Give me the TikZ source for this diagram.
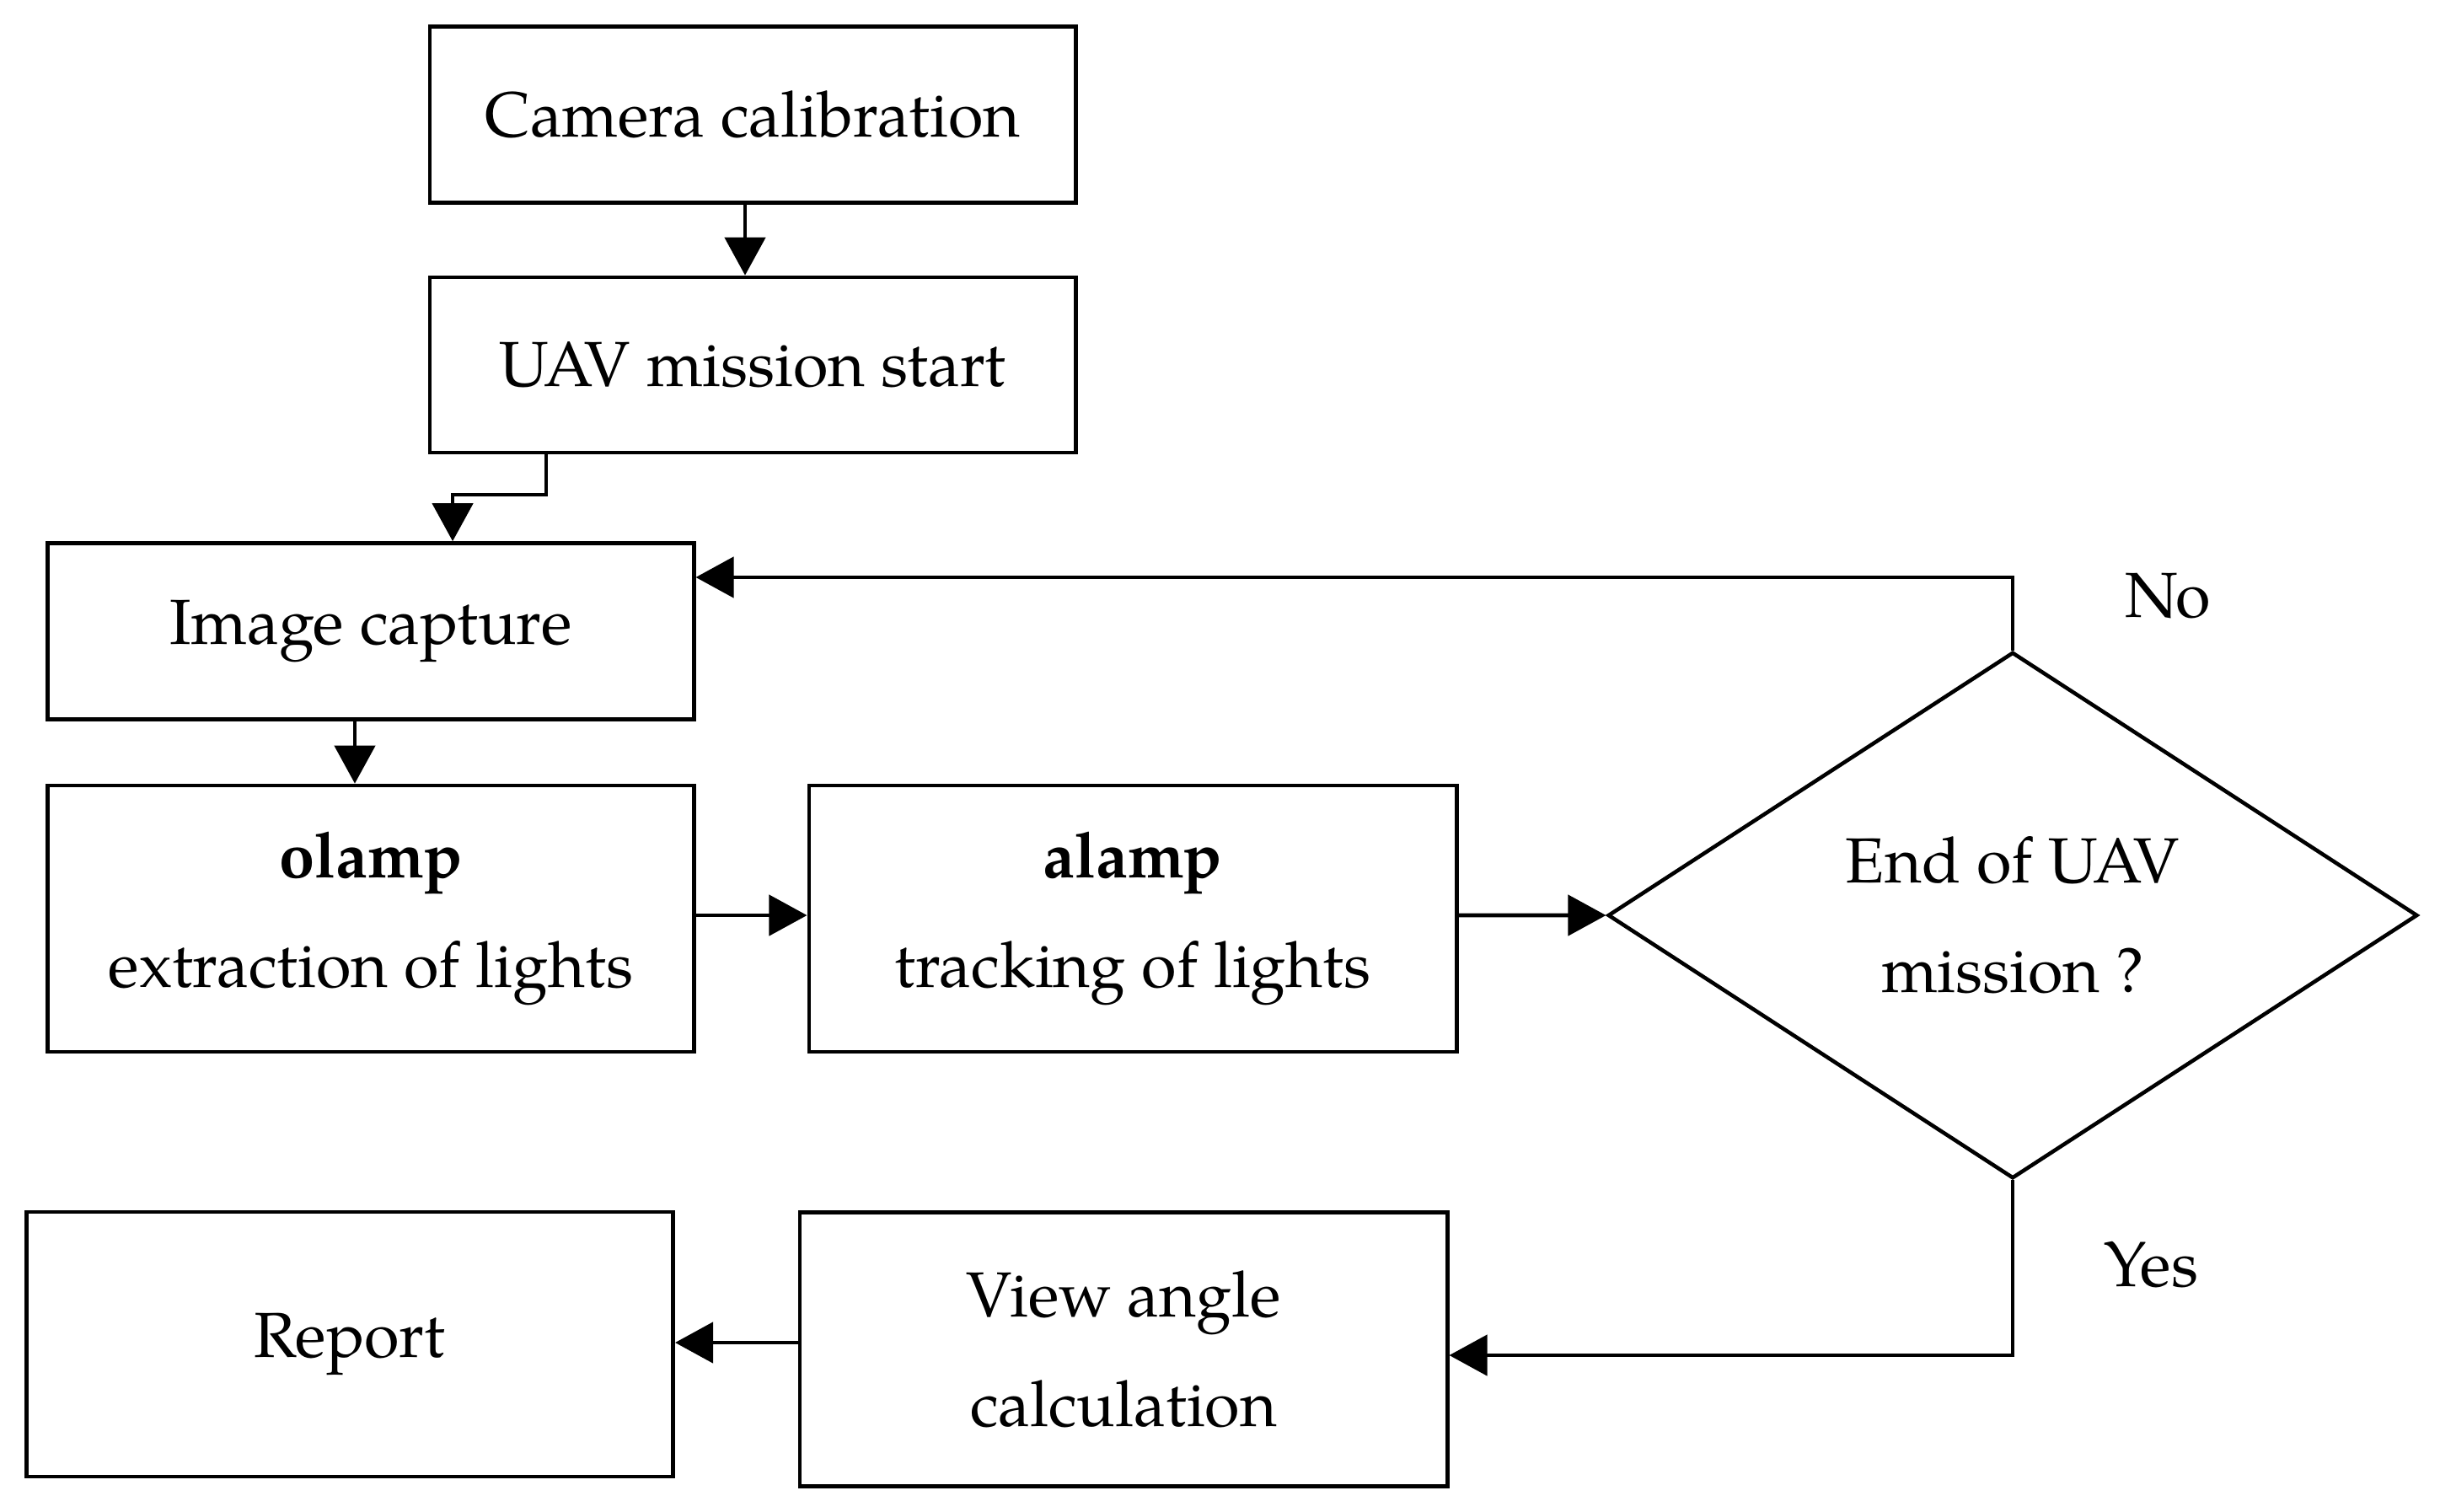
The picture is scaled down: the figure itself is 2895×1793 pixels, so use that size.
\documentclass[tikz,border=0pt]{standalone}
\usepackage{fontspec}
\setmainfont{TeX Gyre Pagella}
\usetikzlibrary{shapes.geometric,arrows.meta}
\begin{document}
\begin{tikzpicture}[x=0.01cm,y=-0.01cm,
  every node/.style={font=\fontsize{21.5}{37}\selectfont},
  box/.style={draw, line width=1.3pt, rectangle, align=center, inner sep=0pt},
  decision/.style={draw, line width=1.3pt, diamond, align=center, inner sep=0pt},
  arr/.style={line width=1.3pt, -{Triangle[width=0.48cm,length=0.45cm]}}]
\useasboundingbox (0,0) rectangle (2895,1793);
\node[box, minimum width=7.66cm, minimum height=2.09cm] (cam) at (893,136) {Camera calibration};
\node[box, minimum width=7.66cm, minimum height=2.08cm] (uav) at (893,433) {UAV mission start};
\node[box, minimum width=7.66cm, minimum height=2.09cm] (img) at (440,749) {Image capture};
\node[box, minimum width=7.66cm, minimum height=3.16cm] (olamp) at (440,1090) {\textbf{olamp}\\extraction of lights};
\node[box, minimum width=7.68cm, minimum height=3.16cm] (alamp) at (1344,1090) {\textbf{alamp}\\tracking of lights};
\node[decision, minimum width=9.6cm, minimum height=6.24cm] (dia) at (2388,1086) {End of UAV\\mission ?};
\node[box, minimum width=7.67cm, minimum height=3.14cm] (rep) at (415,1595) {Report};
\node[box, minimum width=7.68cm, minimum height=3.25cm] (view) at (1333,1601) {View angle\\calculation};
\node (no) at (2572,707) {No};
\node (yes) at (2552,1501) {Yes};
\coordinate (k1) at (648,587);
\coordinate (k2) at (884,0);
\draw[arr] (cam.south -| k2) -- (uav.north -| k2);
\draw[arr] (uav.south -| k1) -- (k1) -| ([xshift=0.97cm]img.north);
\draw[arr] ([xshift=-0.19cm]img.south) -- ([xshift=-0.19cm]olamp.north);
\draw[arr] ([yshift=0.04cm]olamp.east) -- ([yshift=0.04cm]alamp.west);
\draw[arr] ([yshift=0.04cm]alamp.east) -- (dia.west);
\draw[arr] (dia.north) |- ([yshift=0.64cm]img.east);
\draw[arr] (dia.south) |- ([yshift=-0.07cm]view.east);
\draw[arr] ([yshift=0.08cm]view.west) -- ([yshift=0.08cm]view.west -| rep.east);
\end{tikzpicture}
\end{document}
